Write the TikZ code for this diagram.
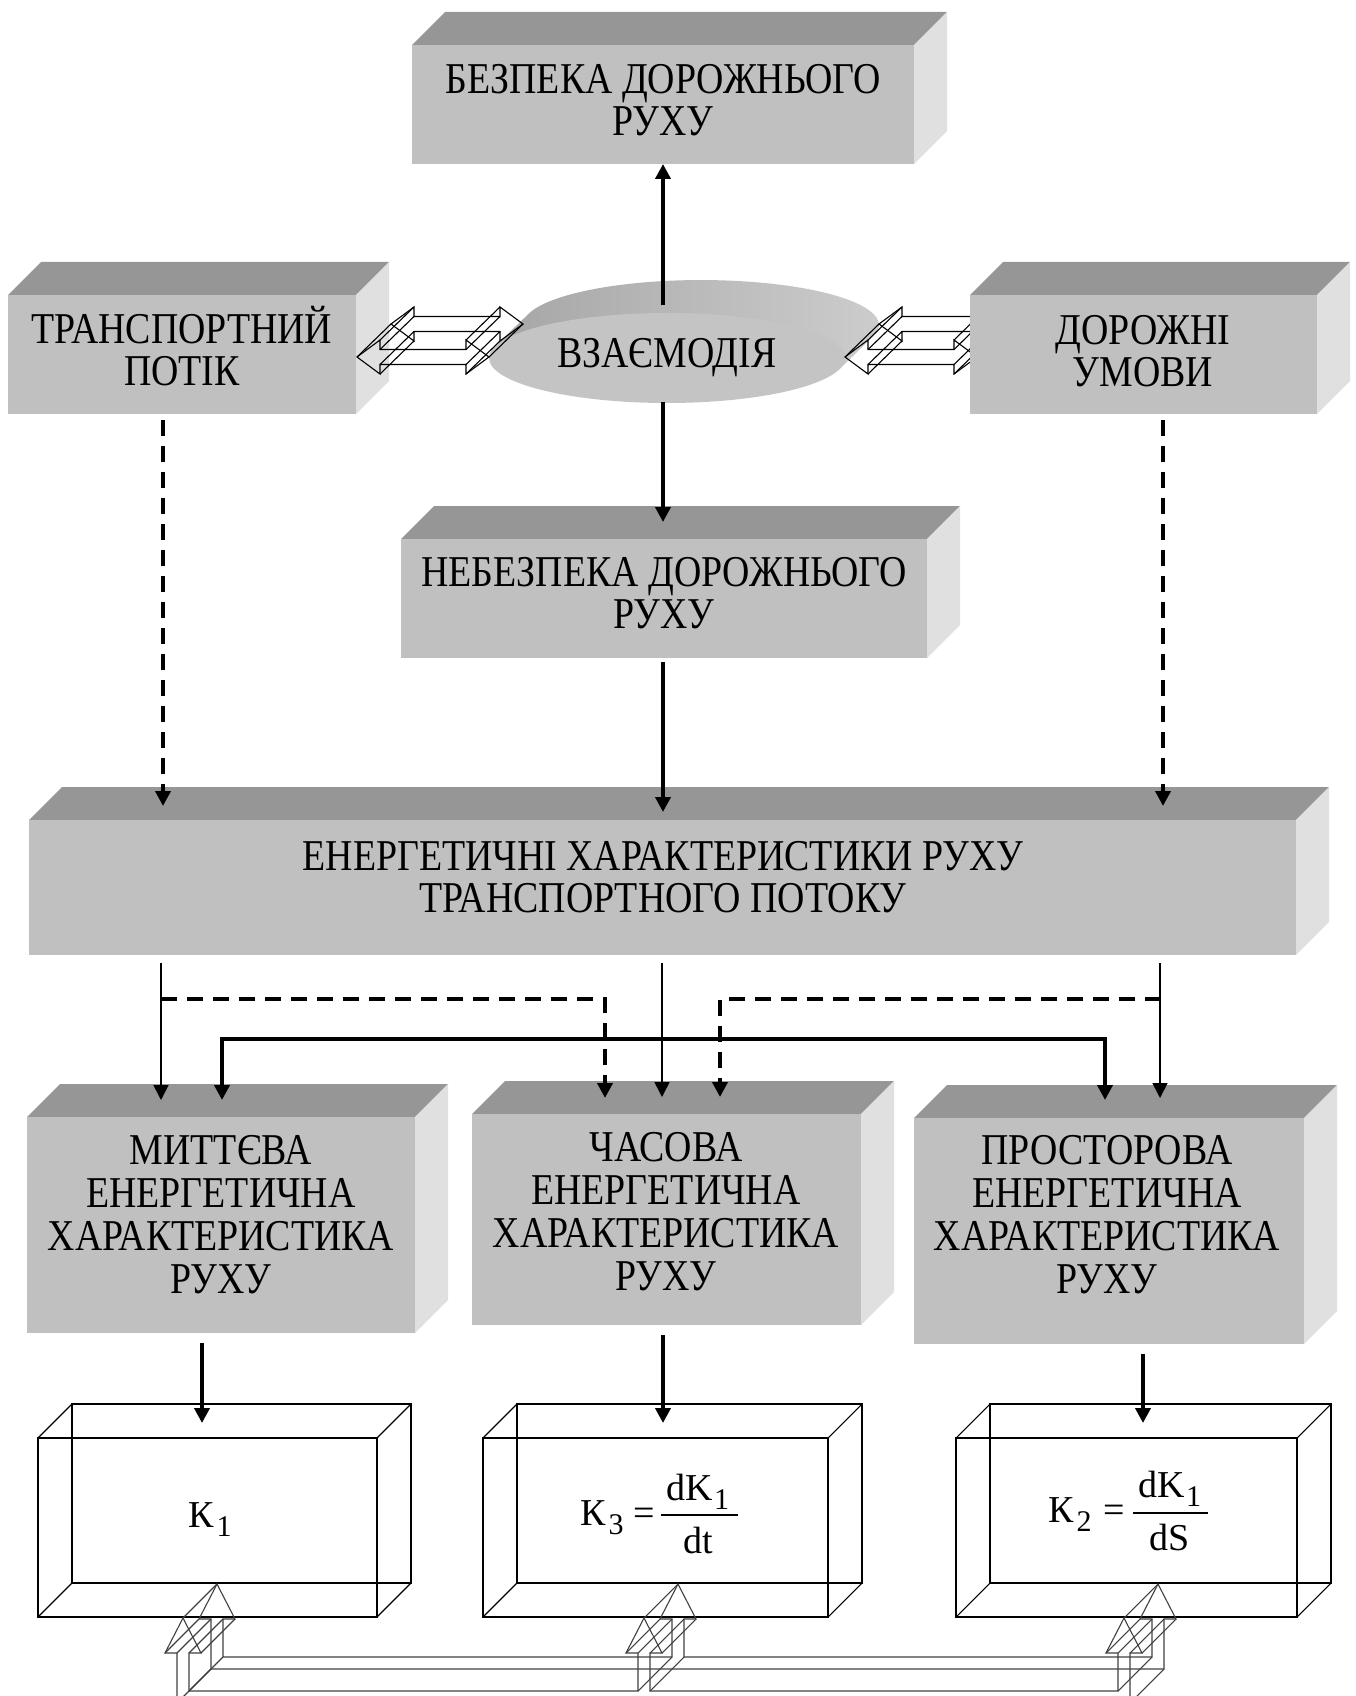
\documentclass[tikz,border=0pt]{standalone}
\usepackage{fontspec}
\setmainfont{Liberation Serif}[FakeStretch=0.86]
\newfontfamily\formulafont{Liberation Serif}
\usetikzlibrary{arrows.meta,shapes.geometric}

\definecolor{frontgray}{RGB}{192,192,192}
\definecolor{topgray}{RGB}{150,150,150}
\definecolor{sidegray}{RGB}{224,224,224}
\definecolor{rimdark}{RGB}{153,153,153}
\definecolor{rimleft}{RGB}{166,166,166}
\definecolor{rimlight}{RGB}{206,206,206}
\definecolor{discgray}{RGB}{196,196,196}

% depth of the extruded boxes (pixels)
\newcommand\boxdep{33}
\newcommand\wiredep{34}

% shaded 3-D box: name, x1, y1, x2, y2 of the front face
\newcommand\solidbox[5]{%
  \fill[topgray] (#2,#3) -- (#2+\boxdep,#3-\boxdep) -- (#4+\boxdep,#3-\boxdep) -- (#4,#3) -- cycle;
  \fill[sidegray] (#4,#3) -- (#4+\boxdep,#3-\boxdep) -- (#4+\boxdep,#5-\boxdep) -- (#4,#5) -- cycle;
  \node[frontface, minimum width=#4-#2, minimum height=#5-#3, anchor=north west] (#1) at (#2,#3) {};}

% wire-frame 3-D box: name, x1, y1, x2, y2 of the front face
\newcommand\wirebox[5]{%
  \node[wireface, minimum width=#4-#2, minimum height=#5-#3, anchor=north west] (#1) at (#2,#3) {};
  \draw[wireline] (#2+\wiredep,#3-\wiredep) rectangle (#4+\wiredep,#5-\wiredep);
  \draw[wireline] (#2,#3) -- +(\wiredep,-\wiredep) (#4,#3) -- +(\wiredep,-\wiredep)
                  (#2,#5) -- +(\wiredep,-\wiredep) (#4,#5) -- +(\wiredep,-\wiredep);}

% wire-frame 3-D double-headed arrow: left tip x, right tip x, centre y
\newcommand\dblarrow[3]{%
  \foreach \ox/\oy in {0/0,34/33}{
    \draw[wireline] (#1+\ox,#3-\oy) -- (#1+23+\ox,#3-17-\oy) -- (#1+23+\ox,#3-7.5-\oy)
      -- (#2-23+\ox,#3-7.5-\oy) -- (#2-23+\ox,#3-17-\oy) -- (#2+\ox,#3-\oy)
      -- (#2-23+\ox,#3+17-\oy) -- (#2-23+\ox,#3+7.5-\oy) -- (#1+23+\ox,#3+7.5-\oy)
      -- (#1+23+\ox,#3+17-\oy) -- cycle;}
  \foreach \px/\py in {#1/#3, #1+23/#3-17, #1+23/#3-7.5, #2-23/#3-7.5, #2-23/#3-17,
                       #2/#3, #2-23/#3+17, #2-23/#3+7.5, #1+23/#3+7.5, #1+23/#3+17}
    \draw[wireline] (\px,\py) -- +(34,-33);}

\newcommand\subd[2]{\kern#1pt\raisebox{-9pt}{\fontsize{30}{30}\selectfont #2}}

\begin{document}
\lineskiplimit=-1000pt
\begin{tikzpicture}[x=1pt,y=-1pt,
  >={Triangle[width=15pt,length=15pt]},
  frontface/.style={fill=frontgray, inner sep=0pt, outer sep=0pt},
  wireface/.style={draw=black, line width=1.3pt, inner sep=0pt, outer sep=0pt},
  wireline/.style={draw=black, line width=1.1pt, line join=miter},
  forkline/.style={draw=black!75, line width=1.1pt},
  lbl/.style={font=\fontsize{44}{42}\selectfont, align=center, inner sep=0pt},
  lbltall/.style={font=\fontsize{44}{43}\selectfont, align=center, inner sep=0pt},
  fm/.style={font=\formulafont\fontsize{38}{38}\selectfont, inner sep=0pt},
  thickarr/.style={line width=4pt, ->},
  thinarr/.style={line width=1.6pt, ->},
  dasharr/.style={line width=4pt, dash pattern=on 16pt off 10pt, ->},
  disc/.style={ellipse, fill=discgray, minimum width=356pt, minimum height=90pt, inner sep=0pt,
               font=\fontsize{44}{42}\selectfont}]
\useasboundingbox (0,0) rectangle (1355,1696);
\clip (0,0) rectangle (1355,1696);

% ---------- upper level ----------
\solidbox{safety}{412}{45}{914}{164}
\node[lbl] (tsafety) at (663,100.5) {БЕЗПЕКА ДОРОЖНЬОГО\\РУХУ};

\solidbox{flow}{8}{295}{356}{414}
\node[lbl] (tflow) at (182,346) {ТРАНСПОРТНИЙ\\ПОТІК};

% interaction disc: dark rim behind the light face
\shade[left color=rimleft, middle color=rimdark, right color=rimlight]
  (494.7,346.7) -- (528.7,313.7)
  arc[start angle=194.6, end angle=374.6, x radius=178, y radius=45]
  -- (839.3,369.3) -- cycle;
\node[disc] (interact) at (667,358) {ВЗАЄМОДІЯ};

\dblarrow{357}{489}{357}
\dblarrow{845}{977}{357}

\solidbox{road}{970}{295}{1317}{414}
\node[lbl] (troad) at (1143,351) {ДОРОЖНІ\\УМОВИ};

\coordinate (axisTop) at (663,305);
\draw[thickarr] (axisTop) -- (axisTop |- safety.south);

% ---------- middle level ----------
\solidbox{danger}{401}{539}{927}{658}
\node[lbl] (tdanger) at (664,593.5) {НЕБЕЗПЕКА ДОРОЖНЬОГО\\РУХУ};

\coordinate (axisLow) at (663,402);
\coordinate (dangerTip) at (663,522);
\draw[thickarr] (axisLow) -- (dangerTip);

\solidbox{energy}{29}{820}{1296}{955}
\node[lbl] (tenergy) at (663,877) {ЕНЕРГЕТИЧНІ ХАРАКТЕРИСТИКИ РУХУ\\ТРАНСПОРТНОГО ПОТОКУ};

\coordinate (energyTip) at (663,812);
\draw[thickarr, shorten <=4pt] (danger.south -| energyTip) -- (energyTip);
\coordinate (flowTip) at (163,806);
\draw[dasharr, shorten <=6pt] (flow.south -| flowTip) -- (flowTip);
\coordinate (roadTip) at (1163,806);
\draw[dasharr, shorten <=6pt] (road.south -| roadTip) -- (roadTip);

% ---------- characteristics ----------
\solidbox{inst}{27}{1117}{415}{1333}
\node[lbltall] (tinst) at (221,1215) {МИТТЄВА\\ЕНЕРГЕТИЧНА\\ХАРАКТЕРИСТИКА\\РУХУ};
\solidbox{temp}{472}{1114}{861}{1325}
\node[lbltall] (ttemp) at (666,1212) {ЧАСОВА\\ЕНЕРГЕТИЧНА\\ХАРАКТЕРИСТИКА\\РУХУ};
\solidbox{spat}{914}{1118}{1304}{1344}
\node[lbltall] (tspat) at (1107,1215) {ПРОСТОРОВА\\ЕНЕРГЕТИЧНА\\ХАРАКТЕРИСТИКА\\РУХУ};

\coordinate (instTipA) at (161,1100);
\draw[thinarr, shorten <=8pt] (energy.south -| instTipA) -- (instTipA);
\coordinate (tempTipB) at (662,1097);
\draw[thinarr, shorten <=8pt] (energy.south -| tempTipB) -- (tempTipB);
\coordinate (spatTipB) at (1160,1098);
\draw[thinarr, shorten <=8pt] (energy.south -| spatTipB) -- (spatTipB);

\coordinate (busRow) at (0,1039);
\coordinate (instTipB) at (222,1100);
\coordinate (spatTipA) at (1105,1100);
\draw[line width=4pt, <->] (instTipB) -- (instTipB |- busRow) -- (spatTipA |- busRow) -- (spatTipA);

\coordinate (dashRowL) at (161,999);
\coordinate (tempTipA) at (605,1098);
\draw[dasharr] (dashRowL) -- (dashRowL -| tempTipA) -- (tempTipA);
\coordinate (dashRowR) at (1161,999);
\coordinate (tempTipC) at (720,1097);
\draw[dasharr] (dashRowR) -- (dashRowR -| tempTipC) -- (tempTipC);

% ---------- indicators ----------
\wirebox{k1box}{38}{1438}{377}{1617}
\wirebox{k3box}{483}{1438}{828}{1617}
\wirebox{k2box}{956}{1438}{1297}{1617}

\coordinate (k1Tip) at (202,1423);
\draw[thickarr, shorten <=10pt] (inst.south -| k1Tip) -- (k1Tip);
\coordinate (k3Tip) at (663,1423);
\draw[thickarr, shorten <=10pt] (temp.south -| k3Tip) -- (k3Tip);
\coordinate (k2Tip) at (1143,1423);
\draw[thickarr, shorten <=10pt] (spat.south -| k2Tip) -- (k2Tip);

\node[fm, anchor=base west] (k1) at (188,1527) {К\subd{3}{1}};

\node[fm, anchor=base west] (k3) at (580,1525) {К\subd{3}{3}};
\node[fm, anchor=base] (k3eq) at (644,1525) {=};
\draw[line width=1.2pt] (661,1515) -- (738,1515);
\node[fm, anchor=base] (k3num) at (698,1500) {dK\subd{1}{1}};
\node[fm, anchor=base] (k3den) at (698,1553) {dt};

\node[fm, anchor=base west] (k2) at (1048,1522) {К\subd{3}{2}};
\node[fm, anchor=base] (k2eq) at (1114,1522) {=};
\draw[line width=1.2pt] (1133,1513) -- (1208,1513);
\node[fm, anchor=base] (k2num) at (1170,1497) {dK\subd{1}{1}};
\node[fm, anchor=base] (k2den) at (1170,1550) {dS};

% ---------- 3-D fork of arrows under the indicators ----------
\foreach \ox/\oy in {0/0,34/34}{
  \draw[forkline] (177+\ox,1703-\oy) -- (177+\ox,1653-\oy) -- (165+\ox,1653-\oy) -- (183+\ox,1618-\oy)
    -- (201+\ox,1653-\oy) -- (189+\ox,1653-\oy) -- (189+\ox,1691-\oy) -- (638+\ox,1691-\oy)
    -- (638+\ox,1653-\oy) -- (626+\ox,1653-\oy) -- (644+\ox,1618-\oy) -- (662+\ox,1653-\oy)
    -- (650+\ox,1653-\oy) -- (650+\ox,1691-\oy) -- (1118+\ox,1691-\oy) -- (1118+\ox,1653-\oy)
    -- (1106+\ox,1653-\oy) -- (1124+\ox,1618-\oy) -- (1142+\ox,1653-\oy) -- (1130+\ox,1653-\oy)
    -- (1130+\ox,1703-\oy) -- cycle;}
\foreach \px/\py in {177/1703, 177/1653, 165/1653, 183/1618, 201/1653, 189/1653, 189/1691,
                     638/1691, 638/1653, 626/1653, 644/1618, 662/1653, 650/1653, 650/1691,
                     1118/1691, 1118/1653, 1106/1653, 1124/1618, 1142/1653, 1130/1653, 1130/1703}
  \draw[forkline] (\px,\py) -- +(34,-34);
\end{tikzpicture}
\end{document}
